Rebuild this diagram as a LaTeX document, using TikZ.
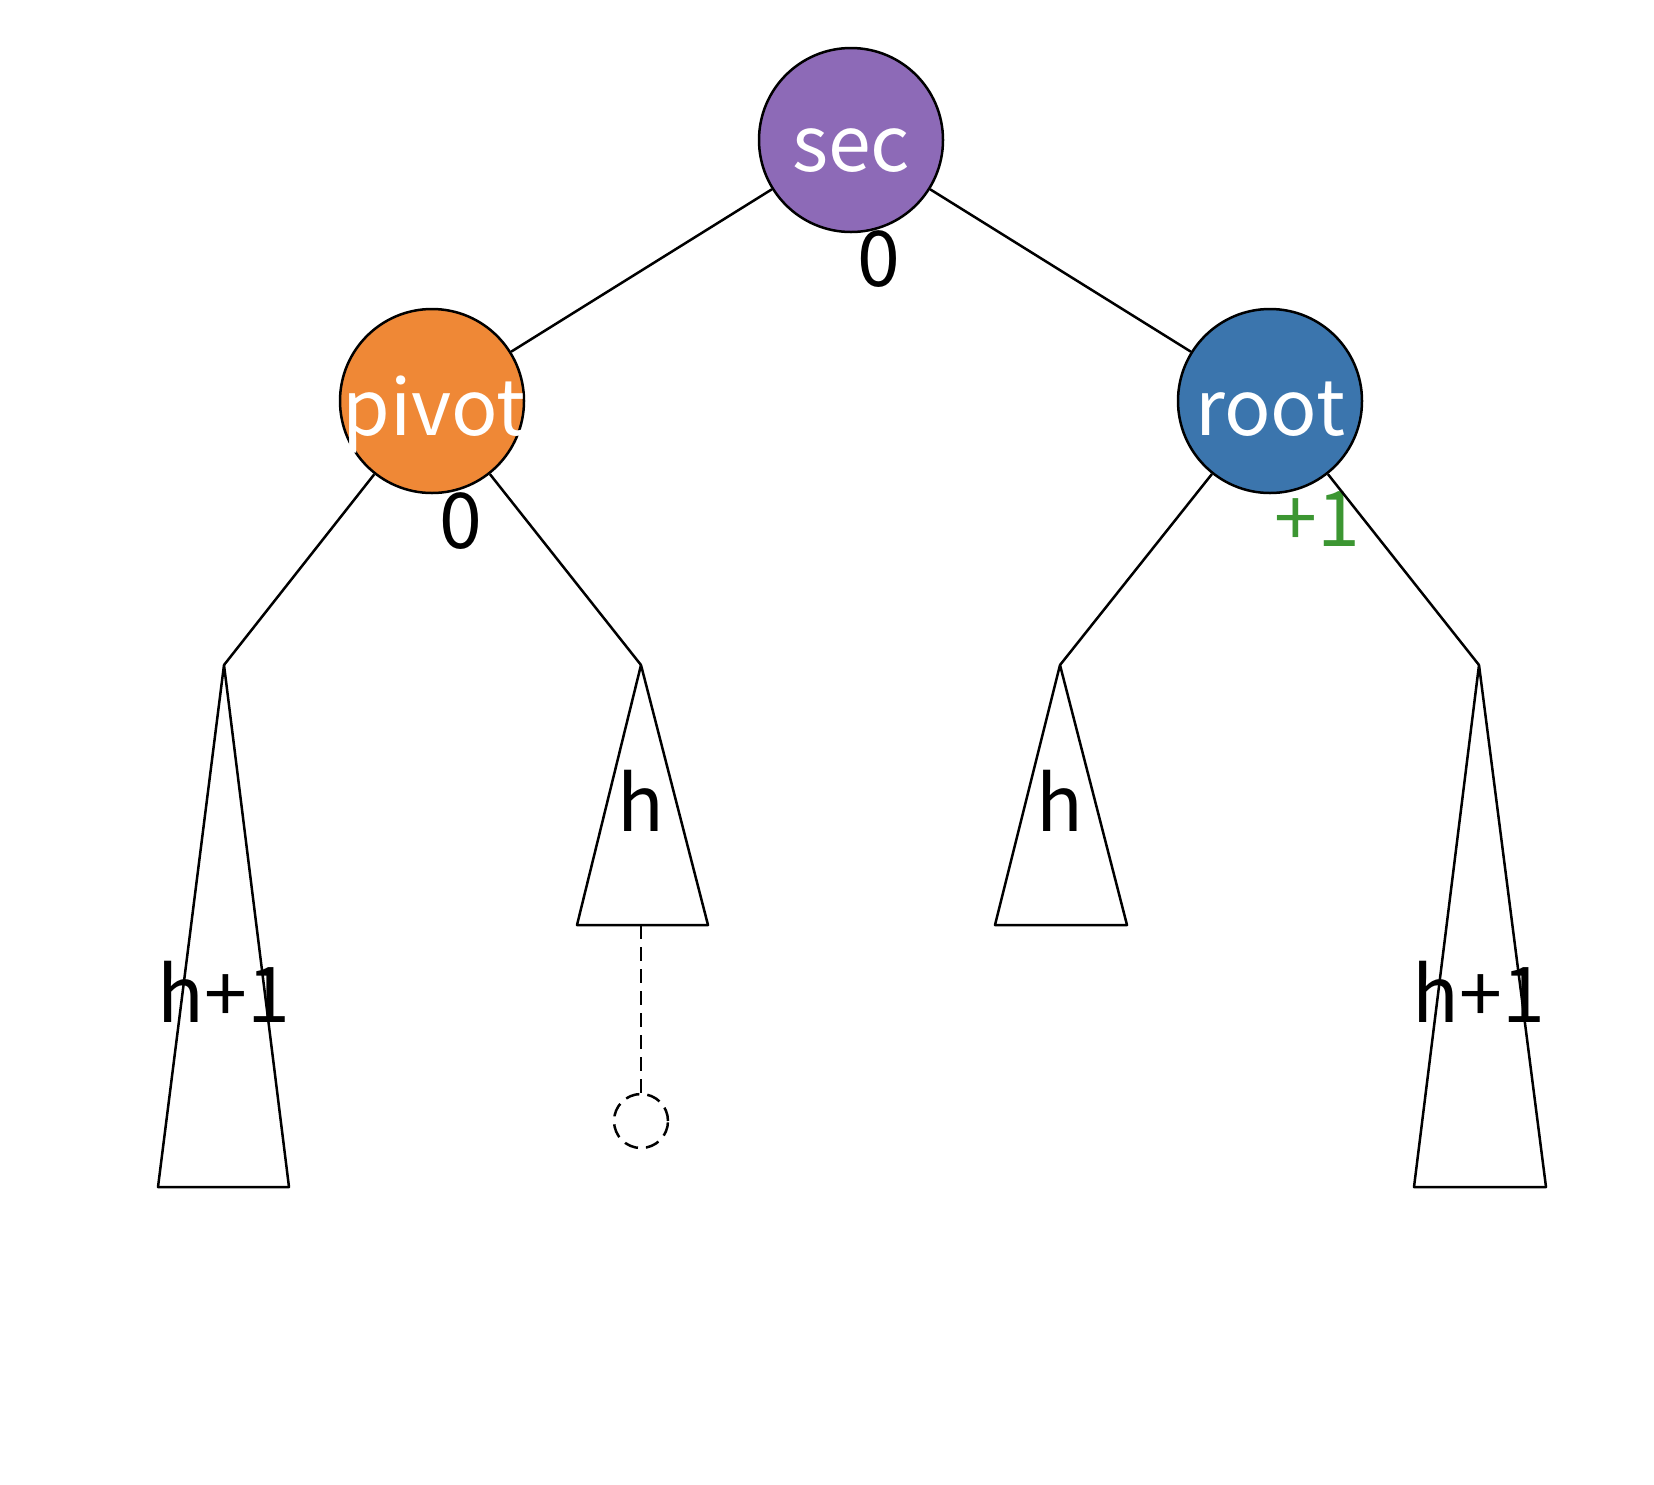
\documentclass[tikz,border=0pt]{standalone}
\usepackage{fontspec}
\setmainfont{Noto Sans CJK SC}
\definecolor{cpurple}{HTML}{8D6AB7}
\definecolor{corange}{HTML}{EF8836}
\definecolor{cblue}{HTML}{3B75AD}
\definecolor{cgreen}{HTML}{3C9632}
\begin{document}
\begin{tikzpicture}[x=1pt,y=-1pt,
  every node/.style={font=\fontsize{77}{92}\selectfont},
  treenode/.style={circle,draw=black,line width=2.5pt,minimum size=184pt,inner sep=0pt},
  nodetext/.style={anchor=base,inner sep=0pt,text=white},
  edge/.style={line width=2.5pt},
  subtree/.style={draw=black,line width=2.5pt,line join=round},
  lbl/.style={anchor=base,inner sep=0pt},
  dashedline/.style={line width=2.5pt,dash pattern=on 14pt off 8pt}]
\useasboundingbox (0,0) rectangle (1654,1484);
\node[treenode,fill=cpurple] (sec) at (851,140) {};
\node[treenode,fill=corange] (pivot) at (432,401) {};
\node[treenode,fill=cblue] (root) at (1270,401) {};
\node[nodetext] (sect) at (851,171) {sec};
\node[nodetext] (pivott) at (434,435) {pivot};
\node[nodetext] (roott) at (1270,435) {root};
\node[lbl] (bsec) at (879,286) {0};
\node[lbl] (bpivot) at (461,548) {0};
\node[lbl,text=cgreen] (broot) at (1317,546) {+1};
% subtree apexes
\coordinate (t1) at (224,665);
\coordinate (t2) at (641,665);
\coordinate (t3) at (1060,665);
\coordinate (t4) at (1479,665);
\coordinate (t1l) at (158,1187); \coordinate (t1r) at (289,1187);
\coordinate (t2l) at (577,925); \coordinate (t2r) at (708,925);
\coordinate (t3l) at (995,925); \coordinate (t3r) at (1127,925);
\coordinate (t4l) at (1414,1187); \coordinate (t4r) at (1546,1187);
\coordinate (t2b) at (641,925);
\draw[edge] (sec) -- (pivot);
\draw[edge] (sec) -- (root);
\draw[edge] (pivot) -- (t1);
\draw[edge] (pivot) -- (t2);
\draw[edge] (root) -- (t3);
\draw[edge] (root) -- (t4);
\draw[subtree] (t1) -- (t1l) -- (t1r) -- cycle;
\draw[subtree] (t2) -- (t2l) -- (t2r) -- cycle;
\draw[subtree] (t3) -- (t3l) -- (t3r) -- cycle;
\draw[subtree] (t4) -- (t4l) -- (t4r) -- cycle;
\node[lbl] (h1) at (224,1022) {h+1};
\node[lbl] (h2) at (641,831) {h};
\node[lbl] (h3) at (1060,831) {h};
\node[lbl] (h4) at (1479,1022) {h+1};
\node[circle,draw=black,dashedline,minimum size=54pt,inner sep=0pt] (nul) at (641,1121) {};
\draw[dashedline] (t2b) -- (nul);
\end{tikzpicture}
\end{document}
